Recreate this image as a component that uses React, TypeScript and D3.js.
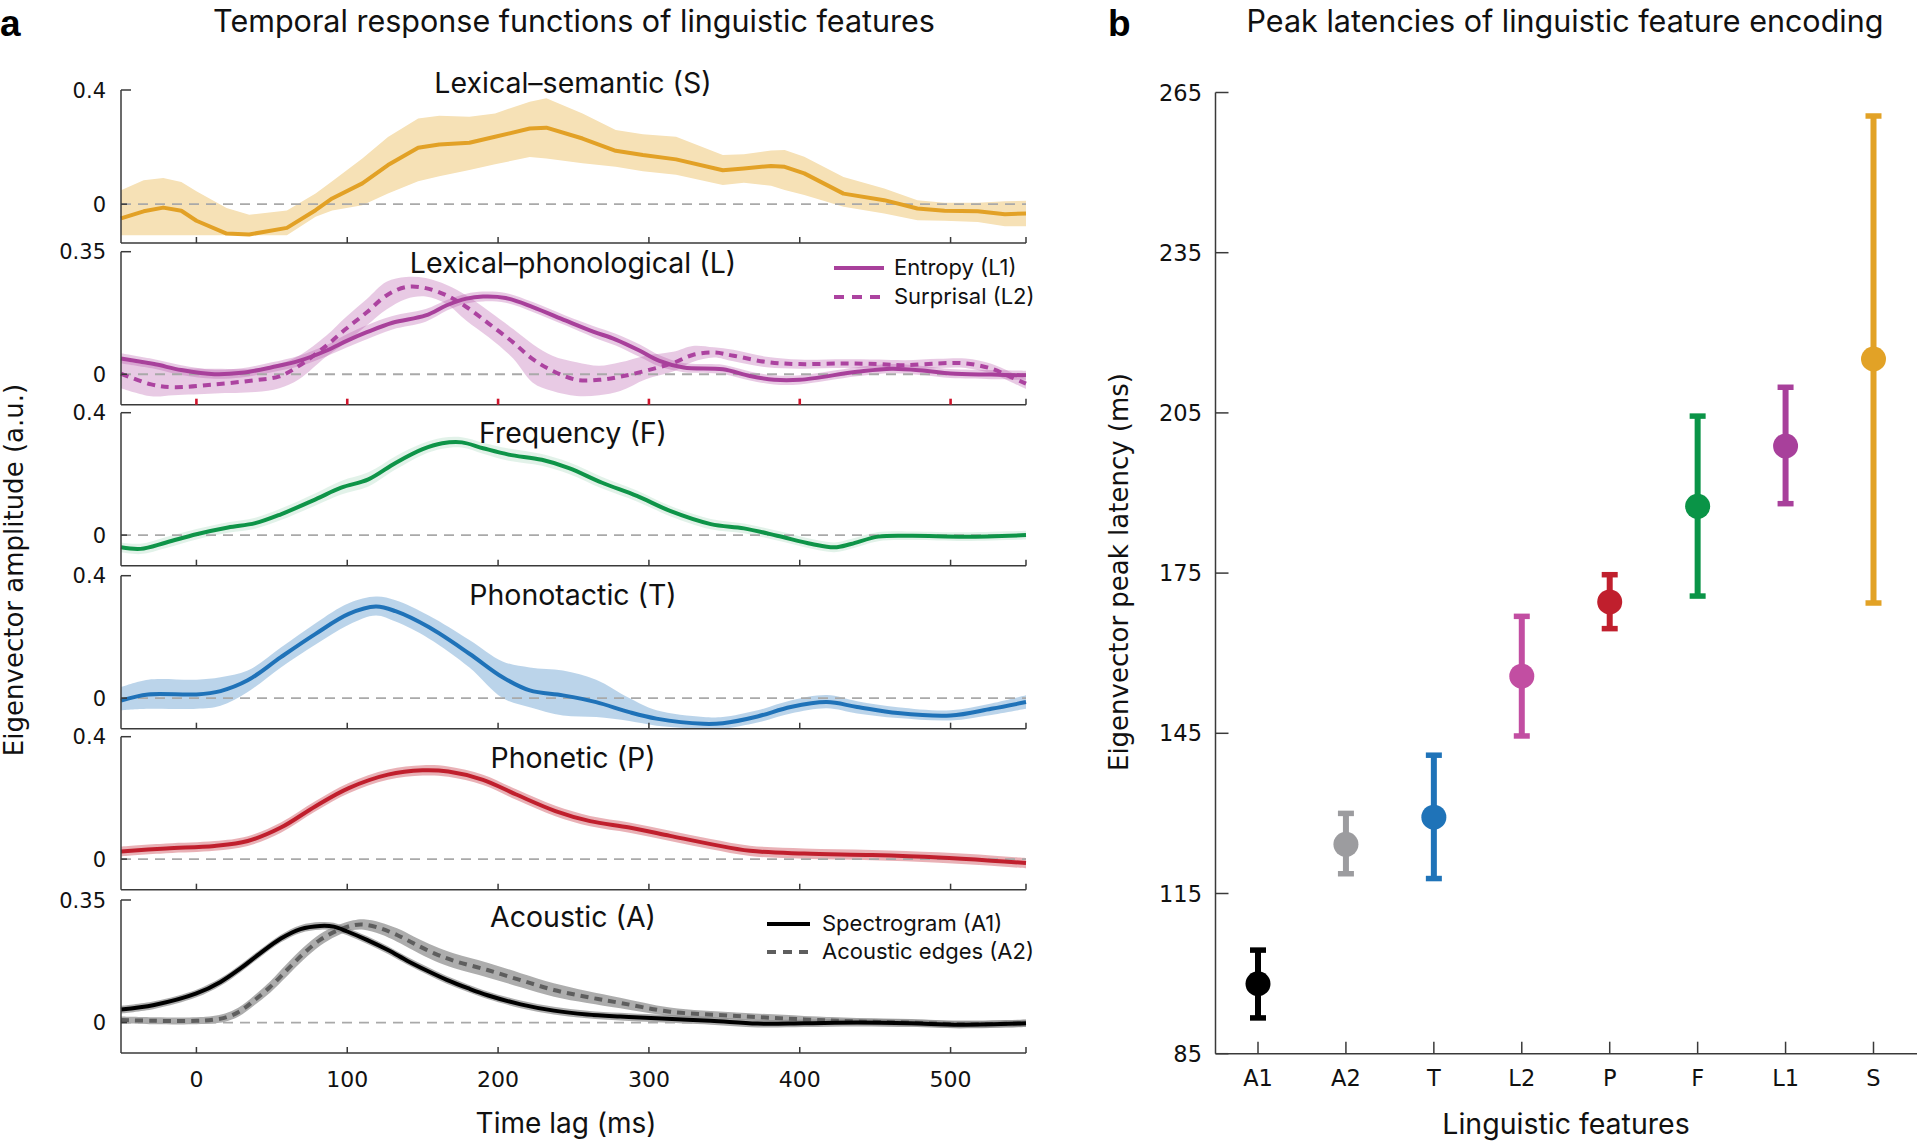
import React from 'react';
import * as d3 from 'd3';

// ---------- Panel a data (time in ms, amplitude in a.u.) ----------
const S_T = [-50,-35,-22,-10,0,20,35,60,79,90,110,127,147,161,181,198,221,232,256,278,296,318,349,363,381,390,403,429,456,478,496,518,536,550];
const S_MEAN = [-0.05,-0.025,-0.012,-0.023,-0.058,-0.103,-0.106,-0.083,-0.021,0.02,0.073,0.137,0.198,0.209,0.215,0.236,0.265,0.268,0.23,0.187,0.172,0.157,0.119,0.125,0.134,0.131,0.108,0.037,0.014,-0.015,-0.023,-0.025,-0.035,-0.033];
const S_HI = [0.049,0.084,0.092,0.078,0.045,-0.013,-0.037,-0.022,0.037,0.08,0.16,0.235,0.3,0.31,0.306,0.318,0.359,0.371,0.318,0.26,0.245,0.236,0.172,0.175,0.188,0.19,0.166,0.095,0.055,0.014,0.005,0.005,0.01,0.012];
const S_LO = [-0.109,-0.109,-0.109,-0.109,-0.109,-0.109,-0.109,-0.109,-0.044,-0.022,-0.004,0.037,0.08,0.098,0.12,0.14,0.165,0.16,0.143,0.131,0.115,0.103,0.067,0.075,0.065,0.05,0.032,-0.009,-0.033,-0.056,-0.058,-0.062,-0.077,-0.077];

const L1_T = [-50,-28,-10,12,30,50,68,86,100,113,130,152,166,179,190,205,223,245,263,278,294,307,323,349,367,383,400,438,461,483,500,527,550];
const L1_MEAN = [0.045,0.029,0.012,0.0,0.004,0.02,0.038,0.067,0.096,0.12,0.147,0.168,0.197,0.216,0.222,0.218,0.192,0.153,0.122,0.099,0.067,0.038,0.019,0.014,-0.005,-0.016,-0.016,0.007,0.016,0.01,0.002,-0.001,-0.003];
const L1_HI = [0.06,0.043,0.026,0.013,0.017,0.034,0.053,0.083,0.115,0.14,0.166,0.186,0.212,0.23,0.236,0.232,0.206,0.167,0.138,0.116,0.085,0.054,0.032,0.027,0.008,-0.003,-0.003,0.02,0.029,0.023,0.015,0.012,0.01];
const L1_LO = [0.031,0.016,-0.002,-0.013,-0.009,0.006,0.023,0.051,0.077,0.1,0.128,0.15,0.182,0.202,0.208,0.204,0.178,0.139,0.106,0.082,0.049,0.022,0.006,0.001,-0.018,-0.029,-0.029,-0.006,0.003,-0.003,-0.011,-0.014,-0.016];

const L2_T = [-50,-30,-15,12,39,55,68,86,99,113,126,139,152,166,179,194,210,223,236,252,267,281,298,316,329,343,356,378,400,429,452,470,492,510,527,540,550];
const L2_MEAN = [0.002,-0.029,-0.037,-0.029,-0.017,-0.006,0.024,0.081,0.129,0.177,0.225,0.249,0.246,0.225,0.192,0.144,0.091,0.043,0.01,-0.016,-0.016,-0.007,0.01,0.032,0.055,0.062,0.053,0.035,0.029,0.031,0.029,0.026,0.031,0.031,0.016,-0.008,-0.027];
const L2_HI = [0.04,0.025,0.018,0.016,0.016,0.03,0.053,0.11,0.163,0.215,0.264,0.278,0.275,0.255,0.225,0.18,0.129,0.086,0.053,0.034,0.024,0.034,0.053,0.064,0.081,0.077,0.07,0.05,0.042,0.043,0.042,0.04,0.044,0.045,0.03,0.006,-0.012];
const L2_LO = [-0.04,-0.063,-0.06,-0.055,-0.051,-0.04,-0.014,0.05,0.091,0.14,0.185,0.215,0.222,0.2,0.153,0.105,0.045,-0.024,-0.048,-0.062,-0.06,-0.048,-0.014,0.008,0.035,0.048,0.037,0.02,0.016,0.018,0.016,0.012,0.018,0.018,0.002,-0.022,-0.042];

const F_T = [-50,-37,-20,0,21,39,56,79,96,114,132,150,163,176,190,207,229,247,269,292,314,341,363,385,408,423,434,452,474,510,550];
const F_MEAN = [-0.04,-0.045,-0.024,0.003,0.025,0.039,0.068,0.117,0.155,0.182,0.236,0.281,0.3,0.303,0.284,0.263,0.246,0.219,0.171,0.128,0.079,0.036,0.022,-0.002,-0.029,-0.04,-0.029,-0.005,-0.002,-0.005,0.0];
const F_HI = [-0.024,-0.028,-0.006,0.02,0.042,0.057,0.087,0.137,0.177,0.205,0.258,0.3,0.318,0.32,0.302,0.283,0.265,0.238,0.19,0.146,0.096,0.053,0.038,0.014,-0.013,-0.024,-0.013,0.01,0.012,0.009,0.014];
const F_LO = [-0.056,-0.062,-0.042,-0.014,0.008,0.021,0.049,0.097,0.133,0.159,0.214,0.262,0.282,0.286,0.266,0.243,0.227,0.2,0.152,0.11,0.062,0.019,0.006,-0.018,-0.045,-0.056,-0.045,-0.02,-0.016,-0.019,-0.014];

const T_T = [-50,-32,0,16,34,56,79,101,119,132,154,181,203,221,243,265,287,305,336,349,372,394,418,438,465,500,527,550];
const T_MEAN = [-0.008,0.012,0.012,0.023,0.058,0.134,0.21,0.275,0.299,0.284,0.232,0.145,0.068,0.025,0.009,-0.013,-0.046,-0.067,-0.084,-0.082,-0.06,-0.029,-0.013,-0.029,-0.049,-0.057,-0.035,-0.013];
const T_HI = [0.036,0.06,0.06,0.068,0.09,0.165,0.245,0.31,0.332,0.32,0.27,0.19,0.12,0.1,0.09,0.06,0.0,-0.04,-0.062,-0.062,-0.04,-0.008,0.01,-0.01,-0.03,-0.04,-0.018,0.009];
const T_LO = [-0.04,-0.035,-0.035,-0.025,0.02,0.1,0.175,0.24,0.27,0.25,0.195,0.1,0.0,-0.03,-0.057,-0.062,-0.075,-0.09,-0.1,-0.1,-0.08,-0.05,-0.033,-0.05,-0.065,-0.073,-0.055,-0.035];

const P_T = [-50,-20,12,34,56,79,101,127,150,167,190,212,238,261,287,314,341,367,403,448,492,527,550];
const P_MEAN = [0.025,0.035,0.043,0.059,0.103,0.173,0.232,0.276,0.29,0.286,0.259,0.211,0.157,0.124,0.103,0.076,0.049,0.027,0.018,0.013,0.005,-0.005,-0.013];
const P_HI = [0.041,0.051,0.059,0.075,0.12,0.19,0.249,0.293,0.307,0.303,0.276,0.228,0.174,0.141,0.12,0.093,0.066,0.044,0.035,0.03,0.022,0.012,0.004];
const P_LO = [0.009,0.019,0.027,0.043,0.086,0.156,0.215,0.259,0.273,0.269,0.242,0.194,0.14,0.107,0.086,0.059,0.032,0.01,0.001,-0.004,-0.012,-0.022,-0.03];

const A1_T = [-50,-28,0,16,29,42,56,69,82,91,100,113,127,140,153,166,180,193,215,237,259,281,305,341,372,403,438,474,506,550];
const A1_MEAN = [0.037,0.05,0.083,0.116,0.154,0.197,0.24,0.267,0.276,0.274,0.26,0.236,0.207,0.176,0.148,0.122,0.098,0.078,0.052,0.034,0.023,0.017,0.012,0.005,-0.003,-0.002,0.0,-0.002,-0.006,-0.002];
const A1_HI = [0.048,0.061,0.094,0.127,0.165,0.208,0.251,0.278,0.287,0.285,0.271,0.247,0.218,0.187,0.159,0.133,0.109,0.089,0.063,0.045,0.034,0.028,0.023,0.016,0.008,0.009,0.011,0.009,0.005,0.009];
const A1_LO = [0.026,0.039,0.072,0.105,0.143,0.186,0.229,0.256,0.265,0.263,0.249,0.225,0.196,0.165,0.137,0.111,0.087,0.067,0.041,0.023,0.012,0.006,0.001,-0.006,-0.014,-0.013,-0.011,-0.013,-0.017,-0.013];

const A2_T = [-50,-28,0,11,19,28,38,49,60,71,82,93,104,111,122,133,144,158,171,193,215,237,259,281,314,358,403,438,474,506,550];
const A2_MEAN = [0.007,0.005,0.005,0.008,0.014,0.03,0.062,0.102,0.15,0.197,0.236,0.262,0.278,0.28,0.269,0.25,0.226,0.197,0.176,0.15,0.121,0.093,0.073,0.056,0.031,0.019,0.009,0.003,0.0,-0.005,-0.002];
const A2_HI = [0.017,0.015,0.015,0.019,0.026,0.043,0.076,0.118,0.168,0.215,0.253,0.277,0.292,0.295,0.286,0.269,0.246,0.218,0.197,0.171,0.141,0.112,0.09,0.071,0.043,0.029,0.019,0.013,0.01,0.005,0.008];
const A2_LO = [-0.003,-0.005,-0.005,-0.003,0.002,0.017,0.048,0.086,0.132,0.179,0.219,0.247,0.264,0.265,0.252,0.231,0.206,0.176,0.155,0.129,0.101,0.074,0.056,0.041,0.019,0.009,-0.001,-0.007,-0.01,-0.015,-0.012];

const TIME_TICKS = [0, 100, 200, 300, 400, 500];
const TIME_DOMAIN = [-50, 550];
const SUBPLOT_TITLES = ['Lexical–semantic (S)', 'Lexical–phonological (L)', 'Frequency (F)', 'Phonotactic (T)', 'Phonetic (P)', 'Acoustic (A)'];
const Y_LIMITS = [[-0.136, 0.4], [-0.087, 0.35], [-0.1, 0.4], [-0.1, 0.4], [-0.1, 0.4], [-0.087, 0.35]];
const Y_TOP_LABELS = ['0.4', '0.35', '0.4', '0.4', '0.4', '0.35'];

// ---------- Panel b data ----------
const B_CATS = ['A1', 'A2', 'T', 'L2', 'P', 'F', 'L1', 'S'];
const B_MEAN = [98.1, 124.2, 129.3, 155.7, 169.6, 187.5, 198.8, 215.1];
const B_LOW = [91.7, 118.7, 117.8, 144.5, 164.6, 170.7, 188.0, 169.4];
const B_HIGH = [104.4, 130.0, 140.9, 166.9, 174.7, 204.4, 209.8, 260.6];
const B_TICKS = [85, 115, 145, 175, 205, 235, 265];
const B_COLORS = ['#000000', '#9c9c9f', '#1f73b8', '#c24ea2', '#c01f2d', '#0a9447', '#a8409b', '#e2a226'];

const SANS = 'Inter, "Open Sans", sans-serif';
const NUM = '"DejaVu Sans", sans-serif';
const AXIS = '#3a3a3a';

type Series = { t: number[]; m: number[]; hi: number[]; lo: number[]; color: string; band: string; bandOpacity: number; dash?: string; linear?: boolean };

const SUBPLOT_SERIES: Series[][] = [
  [{ t: S_T, m: S_MEAN, hi: S_HI, lo: S_LO, color: '#e2a126', band: '#f6e1b6', bandOpacity: 1, linear: true }],
  [
    { t: L2_T, m: L2_MEAN, hi: L2_HI, lo: L2_LO, color: '#ac43a0', band: '#b24fa6', bandOpacity: 0.3, dash: '8,6' },
    { t: L1_T, m: L1_MEAN, hi: L1_HI, lo: L1_LO, color: '#a8409b', band: '#b24fa6', bandOpacity: 0.3 },
  ],
  [{ t: F_T, m: F_MEAN, hi: F_HI, lo: F_LO, color: '#0e9448', band: '#0e9448', bandOpacity: 0.12 }],
  [{ t: T_T, m: T_MEAN, hi: T_HI, lo: T_LO, color: '#1f72b8', band: '#1f72b8', bandOpacity: 0.3 }],
  [{ t: P_T, m: P_MEAN, hi: P_HI, lo: P_LO, color: '#c01f2d', band: '#c01f2d', bandOpacity: 0.35 }],
  [
    { t: A2_T, m: A2_MEAN, hi: A2_HI, lo: A2_LO, color: '#5e5e5e', band: '#8a8a8a', bandOpacity: 0.7, dash: '8,6' },
    { t: A1_T, m: A1_MEAN, hi: A1_HI, lo: A1_LO, color: '#000000', band: '#8a8a8a', bandOpacity: 0.7 },
  ],
];

const SUB_TOPS = [90, 251.7, 412.7, 575.7, 736.7, 900];
const SUB_H = 153;
const TITLE_BASELINES = [93, 273, 443, 605, 768, 927];

export default function App() {
  const x = d3.scaleLinear().domain(TIME_DOMAIN).range([121, 1026]);
  const x0 = x(TIME_DOMAIN[0]);
  const x1 = x(TIME_DOMAIN[1]);
  const smooth = d3.curveCatmullRom.alpha(0.5);

  const subplots = SUBPLOT_SERIES.map((series, i) => {
    const top = SUB_TOPS[i];
    const y = d3.scaleLinear().domain(Y_LIMITS[i]).range([top + SUB_H, top]);
    const bottom = top + SUB_H;
    const yTop = y(Y_LIMITS[i][1]);
    const y0 = y(0);
    const bands = series.map((s, k) => {
      const pts = s.t.map((t, j) => [t, s.lo[j], s.hi[j]]);
      const area = d3.area<number[]>()
        .x((d) => x(d[0]))
        .y0((d) => y(d[1]))
        .y1((d) => y(d[2]))
        .curve(s.linear ? d3.curveLinear : smooth);
      return <path key={'b' + k} d={area(pts) || ''} fill={s.band} fillOpacity={s.bandOpacity} stroke="none" />;
    });
    const lines = series.map((s, k) => {
      const pts = s.t.map((t, j) => [t, s.m[j]]);
      const line = d3.line<number[]>()
        .x((d) => x(d[0]))
        .y((d) => y(d[1]))
        .curve(s.linear ? d3.curveLinear : smooth);
      return (
        <path key={'l' + k} d={line(pts) || ''} fill="none" stroke={s.color} strokeWidth={4}
          strokeDasharray={s.dash} strokeLinejoin="round" />
      );
    });
    const red = i === 1;
    return (
      <g key={i}>
        {bands}
        <line x1={x0} x2={x1} y1={y0} y2={y0} stroke="#a9a9a9" strokeWidth={1.8} strokeDasharray="10,7" />
        {lines}
        {/* axes */}
        <line x1={x0} x2={x0} y1={yTop} y2={bottom} stroke={AXIS} strokeWidth={1.5} />
        <line x1={x0} x2={x1} y1={bottom} y2={bottom} stroke={AXIS} strokeWidth={1.5} />
        <line x1={x0} x2={x0 + 10} y1={yTop} y2={yTop} stroke={AXIS} strokeWidth={1.5} />
        <line x1={x0} x2={x0 + 6} y1={y0} y2={y0} stroke={AXIS} strokeWidth={1.5} />
        {TIME_TICKS.concat([TIME_DOMAIN[1]]).map((t) => (
          <line key={t} x1={x(t)} x2={x(t)} y1={bottom} y2={bottom - 6}
            stroke={red && t !== TIME_DOMAIN[1] ? '#d0142c' : AXIS} strokeWidth={red && t !== TIME_DOMAIN[1] ? 2.6 : 1.5} />
        ))}
        <text x={106} y={yTop + 7.5} textAnchor="end" fontFamily={NUM} fontSize={21} fill="#111">{Y_TOP_LABELS[i]}</text>
        <text x={106} y={y0 + 7.5} textAnchor="end" fontFamily={NUM} fontSize={21} fill="#111">0</text>
        <text x={573} y={TITLE_BASELINES[i]} textAnchor="middle" fontFamily={SANS} fontSize={28.5} fill="#111">{SUBPLOT_TITLES[i]}</text>
      </g>
    );
  });

  // Panel b scales
  const yB = d3.scaleLinear().domain([85, 265]).range([1053.7, 92.5]);
  const xB = d3.scalePoint<string>().domain(B_CATS).range([1258, 1873.5]);
  const bx0 = 1215.5;
  const bx1 = 1917;
  const by0 = yB(85);

  return (
    <svg width={1920} height={1143} viewBox="0 0 1920 1143"
      style={{ position: 'absolute', left: 0, top: 0, display: 'block', background: '#fff' }}>
      <rect x={0} y={0} width={1920} height={1143} fill="#fff" />
      {/* Panel a */}
      <text x={0} y={36} fontFamily='"Liberation Sans", Arial, sans-serif' fontWeight="bold" fontSize={37} fill="#000">a</text>
      <text x={574} y={32} textAnchor="middle" fontFamily={SANS} fontSize={30.5} fill="#111">Temporal response functions of linguistic features</text>
      {subplots}
      {TIME_TICKS.map((t) => (
        <text key={t} x={x(t)} y={1087} textAnchor="middle" fontFamily={NUM} fontSize={22} fill="#111">{t}</text>
      ))}
      <text x={566} y={1133} textAnchor="middle" fontFamily={SANS} fontSize={28} fill="#111">Time lag (ms)</text>
      <text transform="translate(23,570) rotate(-90)" textAnchor="middle" fontFamily={NUM} fontSize={26} fill="#111">Eigenvector amplitude (a.u.)</text>

      {/* legends */}
      <line x1={834} x2={884} y1={268} y2={268} stroke="#a8409b" strokeWidth={4} />
      <line x1={834} x2={884} y1={297} y2={297} stroke="#ac43a0" strokeWidth={4} strokeDasharray="10,8" />
      <text x={894} y={275} fontFamily={SANS} fontSize={22} fill="#111">Entropy (L1)</text>
      <text x={894} y={304} fontFamily={SANS} fontSize={22} fill="#111">Surprisal (L2)</text>
      <line x1={767} x2={810} y1={924} y2={924} stroke="#000" strokeWidth={4} />
      <line x1={767} x2={810} y1={952} y2={952} stroke="#5e5e5e" strokeWidth={4} strokeDasharray="9,7" />
      <text x={822} y={931} fontFamily={SANS} fontSize={22} fill="#111">Spectrogram (A1)</text>
      <text x={822} y={959} fontFamily={SANS} fontSize={22} fill="#111">Acoustic edges (A2)</text>

      {/* Panel b */}
      <text x={1108} y={36} fontFamily='"Liberation Sans", Arial, sans-serif' fontWeight="bold" fontSize={37} fill="#000">b</text>
      <text x={1565} y={32} textAnchor="middle" fontFamily={SANS} fontSize={30.5} fill="#111">Peak latencies of linguistic feature encoding</text>
      <line x1={bx0} x2={bx0} y1={yB(265)} y2={by0} stroke={AXIS} strokeWidth={1.5} />
      <line x1={bx0} x2={bx1} y1={by0} y2={by0} stroke={AXIS} strokeWidth={1.5} />
      {B_TICKS.map((v) => (
        <g key={v}>
          <line x1={bx0} x2={bx0 + 13} y1={yB(v)} y2={yB(v)} stroke={AXIS} strokeWidth={1.5} />
          <text x={1202} y={yB(v) + 8} textAnchor="end" fontFamily={NUM} fontSize={22.5} fill="#111">{v}</text>
        </g>
      ))}
      {B_CATS.map((c, i) => {
        const cx = xB(c) as number;
        const col = B_COLORS[i];
        return (
          <g key={c}>
            <line x1={cx} x2={cx} y1={by0} y2={by0 - 12} stroke={AXIS} strokeWidth={1.5} />
            <text x={cx} y={1086} textAnchor="middle" fontFamily={NUM} fontSize={22.5} fill="#111">{c}</text>
            <line x1={cx} x2={cx} y1={yB(B_LOW[i])} y2={yB(B_HIGH[i])} stroke={col} strokeWidth={6} />
            <line x1={cx - 8} x2={cx + 8} y1={yB(B_LOW[i])} y2={yB(B_LOW[i])} stroke={col} strokeWidth={5.5} />
            <line x1={cx - 8} x2={cx + 8} y1={yB(B_HIGH[i])} y2={yB(B_HIGH[i])} stroke={col} strokeWidth={5.5} />
            <circle cx={cx} cy={yB(B_MEAN[i])} r={12.5} fill={col} />
          </g>
        );
      })}
      <text x={1566} y={1134} textAnchor="middle" fontFamily={SANS} fontSize={28.5} fill="#111">Linguistic features</text>
      <text transform="translate(1128,572) rotate(-90)" textAnchor="middle" fontFamily={NUM} fontSize={26} fill="#111">Eigenvector peak latency (ms)</text>
    </svg>
  );
}
